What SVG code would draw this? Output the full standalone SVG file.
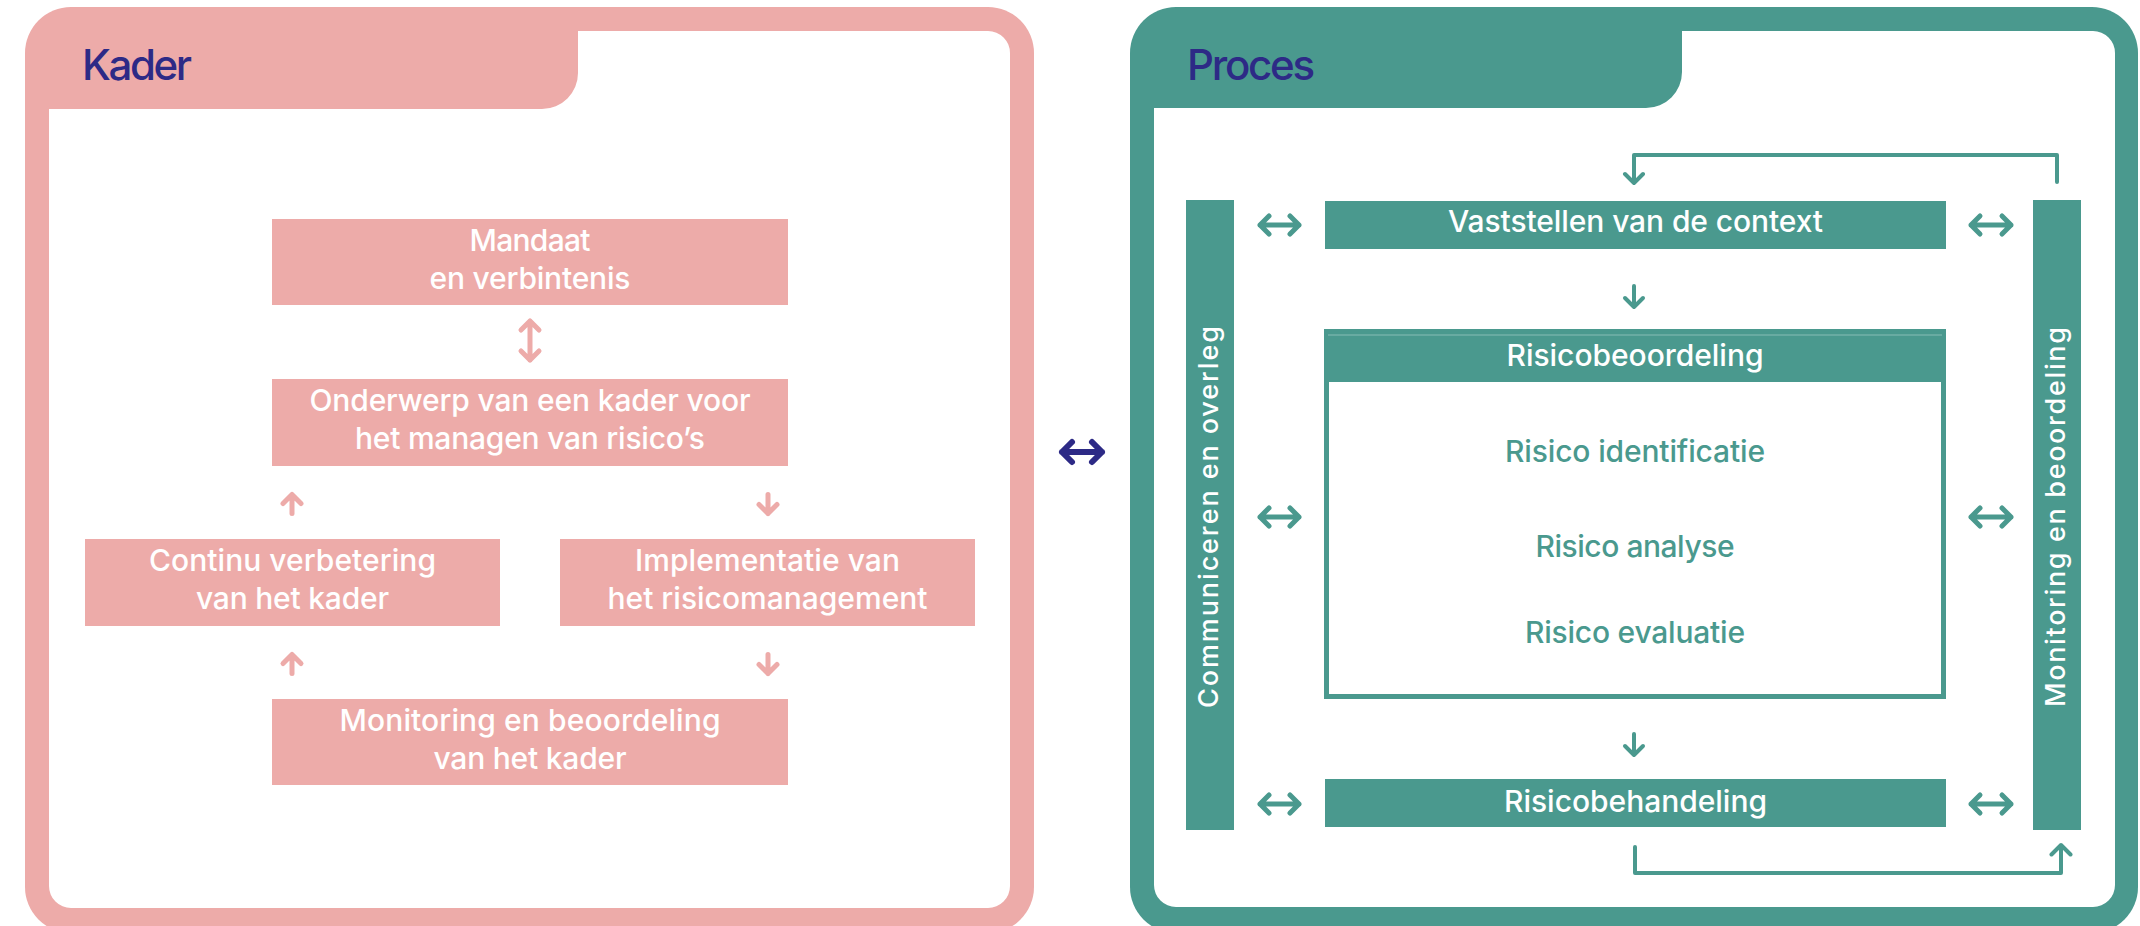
<svg xmlns="http://www.w3.org/2000/svg" width="2140" height="926" viewBox="0 0 2140 926">
<style>
.pink{fill:#EDABA9}
.teal{fill:#4A998E}
.white{fill:#FFFFFF}
text{font-family:Inter,'Liberation Sans',sans-serif}
.title{font-size:42px;font-weight:500;fill:#2D2A86}
.wt{font-size:30px;font-weight:500;fill:#FFFFFF;text-anchor:middle}
.tt{font-size:30px;font-weight:500;fill:#4A998E;text-anchor:middle}
.vt{font-size:27px;font-weight:500;fill:#FFFFFF;text-anchor:middle}
.ap{fill:none;stroke:#EDABA9;stroke-width:5;stroke-linecap:round;stroke-linejoin:round}
.at{fill:none;stroke:#4A998E;stroke-width:5;stroke-linecap:round;stroke-linejoin:round}
.al{fill:none;stroke:#4A998E;stroke-width:4;stroke-linecap:round;stroke-linejoin:round}
.an{fill:none;stroke:#2D2A86;stroke-width:6;stroke-linecap:round;stroke-linejoin:round}
</style>
<rect width="2140" height="926" fill="#FFFFFF"/>

<g id="frame-kader">
<rect class="pink" x="25" y="7" width="1009" height="926" rx="46"/>
<path class="white" d="M49,109 H542 A36,36 0 0 0 578,73 V31 H988 A22,22 0 0 1 1010,53 V886 A22,22 0 0 1 988,908 H71 A22,22 0 0 1 49,886 Z"/>
<text class="title" x="82" y="80" textLength="110" lengthAdjust="spacing">Kader</text>
</g>

<g id="frame-proces">
<rect class="teal" x="1130" y="7" width="1008" height="926" rx="46"/>
<path class="white" d="M1154,108 H1646 A36,36 0 0 0 1682,72 V31 H2093 A22,22 0 0 1 2115,53 V885 A22,22 0 0 1 2093,907 H1176 A22,22 0 0 1 1154,885 Z"/>
<text class="title" x="1187" y="80" textLength="128" lengthAdjust="spacing">Proces</text>
</g>

<g id="node-mandaat">
<rect class="pink" x="272" y="219" width="516" height="86"/>
<text class="wt" x="530" y="251" textLength="121" lengthAdjust="spacing">Mandaat</text>
<text class="wt" x="530" y="289" textLength="201" lengthAdjust="spacing">en verbintenis</text>
</g>

<g id="node-onderwerp">
<rect class="pink" x="272" y="379" width="516" height="87"/>
<text class="wt" x="530" y="411" textLength="441" lengthAdjust="spacing">Onderwerp van een kader voor</text>
<text class="wt" x="530" y="449" textLength="350" lengthAdjust="spacing">het managen van risico’s</text>
</g>

<g id="node-continu">
<rect class="pink" x="85" y="539" width="415" height="87"/>
<text class="wt" x="292.5" y="571" textLength="287" lengthAdjust="spacing">Continu verbetering</text>
<text class="wt" x="292.5" y="609" textLength="193" lengthAdjust="spacing">van het kader</text>
</g>

<g id="node-implementatie">
<rect class="pink" x="560" y="539" width="415" height="87"/>
<text class="wt" x="767.5" y="571" textLength="265" lengthAdjust="spacing">Implementatie van</text>
<text class="wt" x="767.5" y="609" textLength="320" lengthAdjust="spacing">het risicomanagement</text>
</g>

<g id="node-monitoring-kader">
<rect class="pink" x="272" y="699" width="516" height="86"/>
<text class="wt" x="530" y="731" textLength="381" lengthAdjust="spacing">Monitoring en beoordeling</text>
<text class="wt" x="530" y="769" textLength="193" lengthAdjust="spacing">van het kader</text>
</g>

<g id="node-communiceren">
<rect class="teal" x="1186" y="200" width="48" height="630"/>
<text class="vt" transform="translate(1218,517) rotate(-90)" x="0" y="0" textLength="382" lengthAdjust="spacing">Communiceren en overleg</text>
</g>

<g id="node-monitoring-proces">
<rect class="teal" x="2033" y="200" width="48" height="630"/>
<text class="vt" transform="translate(2065,517) rotate(-90)" x="0" y="0" textLength="380" lengthAdjust="spacing">Monitoring en beoordeling</text>
</g>

<g id="node-context">
<rect class="teal" x="1325" y="201" width="621" height="48"/>
<text class="wt" x="1635.5" y="232" textLength="375" lengthAdjust="spacing">Vaststellen van de context</text>
</g>

<g id="node-risicobeoordeling">
<rect x="1326.5" y="331.5" width="617" height="365" fill="#FFFFFF" stroke="#4A998E" stroke-width="5"/>
<rect class="teal" x="1324" y="329" width="622" height="53"/>
<line x1="1328" y1="335" x2="1942" y2="335" stroke="#86BDB5" stroke-width="1"/>
<text class="wt" x="1635" y="366" textLength="257" lengthAdjust="spacing">Risicobeoordeling</text>
<text class="tt" x="1635" y="462" textLength="260" lengthAdjust="spacing">Risico identificatie</text>
<text class="tt" x="1635" y="557" textLength="199" lengthAdjust="spacing">Risico analyse</text>
<text class="tt" x="1635" y="643" textLength="220" lengthAdjust="spacing">Risico evaluatie</text>
</g>

<g id="node-risicobehandeling">
<rect class="teal" x="1325" y="779" width="621" height="48"/>
<text class="wt" x="1635.5" y="812" textLength="263" lengthAdjust="spacing">Risicobehandeling</text>
</g>

<g id="connectors">
<path class="ap" d="M530,321 V360 M521,330 L530,321 L539,330 M521,351 L530,360 L539,351"/>
<path class="ap" d="M292,494.5 V513.5 M283,503.5 L292,494.5 L301,503.5"/>
<path class="ap" d="M768,494.5 V513.5 M759,504.5 L768,513.5 L777,504.5"/>
<path class="ap" d="M292,654.5 V673.5 M283,663.5 L292,654.5 L301,663.5"/>
<path class="ap" d="M768,654.5 V673.5 M759,664.5 L768,673.5 L777,664.5"/>

<path class="an" d="M1062,452 H1102 M1072,442 L1062,452 L1072,462 M1092,442 L1102,452 L1092,462"/>

<path class="at" d="M1260,225 H1299 M1269,216 L1260,225 L1269,234 M1290,216 L1299,225 L1290,234"/>
<path class="at" d="M1971,225 H2011 M1980,216 L1971,225 L1980,234 M2002,216 L2011,225 L2002,234"/>
<path class="at" d="M1260,517 H1299 M1269,508 L1260,517 L1269,526 M1290,508 L1299,517 L1290,526"/>
<path class="at" d="M1971,517 H2011 M1980,508 L1971,517 L1980,526 M2002,508 L2011,517 L2002,526"/>
<path class="at" d="M1260,804 H1299 M1269,795 L1260,804 L1269,813 M1290,795 L1299,804 L1290,813"/>
<path class="at" d="M1971,804 H2011 M1980,795 L1971,804 L1980,813 M2002,795 L2011,804 L2002,813"/>

<path class="al" d="M1634,286 V307 M1625,298 L1634,307 L1643,298"/>
<path class="al" d="M1634,734 V755 M1625,746 L1634,755 L1643,746"/>
<path class="al" d="M2057,182 V155 H1634 V183 M1625,174 L1634,183 L1643,174"/>
<path class="al" d="M1635,847 V873 H2061 V845 M2051.5,854.5 L2061,845 L2070.5,854.5"/>
</g>
</svg>
